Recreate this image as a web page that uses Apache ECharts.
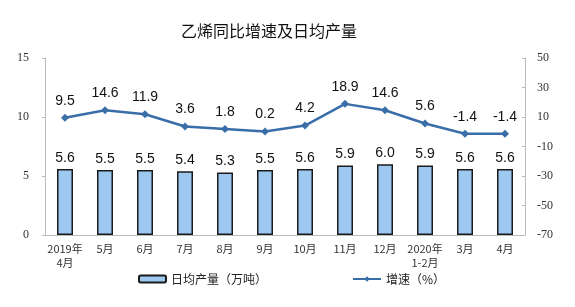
<!DOCTYPE html>
<html>
<head>
<meta charset="utf-8">
<script src="https://cdn.jsdelivr.net/npm/echarts@6/dist/echarts.min.js"></script>
<style>html,body{margin:0;padding:0;background:#fff;}#c{width:575px;height:307px;}</style>
</head>
<body>
<div id="c"></div>
<script>
var categories = ['2019年\n4月','5月','6月','7月','8月','9月','10月','11月','12月','2020年\n1-2月','3月','4月'];
var dailyOutput = [5.6,5.5,5.5,5.4,5.3,5.5,5.6,5.9,6.0,5.9,5.6,5.6];
var growthRate = [9.5,14.6,11.9,3.6,1.8,0.2,4.2,18.9,14.6,5.6,-1.4,-1.4];
var leftTicks = [0,15,5];
var rightTicks = [-70,50,20];

var chart = echarts.init(document.getElementById('c'), null, {renderer:'canvas'});
var cjk = '"Noto Sans CJK SC", sans-serif';
var serif = '"Liberation Serif", "DejaVu Serif", serif';
var sans = '"Liberation Sans", Arial, sans-serif';
chart.setOption({
  animation:false,
  title:{text:'乙烯同比增速及日均产量', left:176, top:18,
    textStyle:{fontFamily:cjk, fontSize:16, fontWeight:'normal', color:'#111'}},
  grid:{left:45, right:50, top:58, bottom:72},
  legend:[
    {data:['日均产量（万吨）'], left:133, top:268, itemWidth:27, itemHeight:7, itemGap:4,
     textStyle:{fontFamily:cjk, fontSize:12, color:'#222'}},
    {data:['增速（%）'], left:347, top:268, itemWidth:28, itemHeight:7,
     textStyle:{fontFamily:cjk, fontSize:12, color:'#222'}}
  ],
  xAxis:{type:'category', data:categories, boundaryGap:true,
    axisLine:{lineStyle:{color:'#bbb'}},
    axisTick:{inside:true, length:3, lineStyle:{color:'#bbb'}},
    axisLabel:{interval:0, fontFamily:cjk, fontSize:11, color:'#333', margin:7, lineHeight:14}},
  yAxis:[
    {type:'value', min:leftTicks[0], max:leftTicks[1], interval:leftTicks[2],
     axisLine:{show:true, lineStyle:{color:'#bbb'}},
     axisTick:{show:true, length:3, lineStyle:{color:'#bbb'}},
     splitLine:{show:false},
     axisLabel:{fontFamily:serif, fontSize:12, color:'#333', margin:16}},
    {type:'value', min:rightTicks[0], max:rightTicks[1], interval:rightTicks[2],
     axisLine:{show:true, lineStyle:{color:'#bbb'}},
     axisTick:{show:true, inside:true, length:3, lineStyle:{color:'#bbb'}},
     splitLine:{show:false},
     axisLabel:{fontFamily:serif, fontSize:12, color:'#333', margin:12}}
  ],
  series:[
    {name:'日均产量（万吨）', type:'bar', data:dailyOutput, yAxisIndex:0, barWidth:16,
     itemStyle:{color:'#9DC8F0', borderColor:'#1a1a1a', borderWidth:1.5},
     label:{show:true, position:'top', distance:4, fontFamily:sans, fontSize:14, color:'#111',
       formatter:function(p){return p.value.toFixed(1);}}},
    {name:'增速（%）', type:'line', data:growthRate, yAxisIndex:1,
     symbol:'diamond', symbolSize:8,
     lineStyle:{color:'#3A6EA8', width:2.5}, itemStyle:{color:'#3A6EA8'},
     label:{show:true, position:'top', distance:6, fontFamily:sans, fontSize:14, color:'#111',
       formatter:function(p){return p.value.toFixed(1);}}}
  ]
});
</script>
</body>
</html>
